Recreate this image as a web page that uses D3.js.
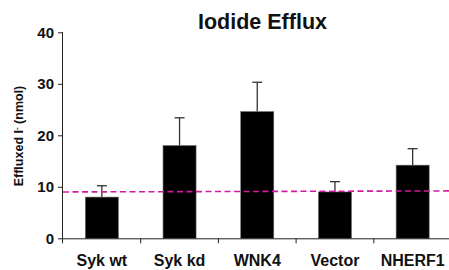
<!DOCTYPE html>
<html><head><meta charset="utf-8">
<script src="https://cdn.jsdelivr.net/npm/d3@7"></script>
<style>
html,body{margin:0;padding:0;background:#fff;}
svg{display:block;font-family:"Liberation Sans",Arial,sans-serif;}
</style></head>
<body>
<svg id="c" width="449" height="270"></svg>
<script>
const categories = ["Syk wt", "Syk kd", "WNK4", "Vector", "NHERF1"];
const means = [8.0, 18.0, 24.6, 9.0, 14.2];
const errors = [2.2, 5.4, 5.7, 2.0, 3.2];
const yTicks = [0, 10, 20, 30, 40];
const controlLevel = [9.0, 9.2];
const title = "Iodide Efflux";

const svg = d3.select("#c");
const x0 = 63, x1 = 451.5, yTop = 32.3, yBot = 238.3;

const x = d3.scaleBand().domain(categories).range([x0, x1]).paddingInner(0.575).paddingOuter(0.2875);
const y = d3.scaleLinear().domain([0, 40]).range([yBot, yTop]);
const step = x.step();

// error bars
const g = svg.append("g");
categories.forEach((c, i) => {
  const cx = x(c) + x.bandwidth() / 2;
  g.append("line").attr("x1", cx).attr("x2", cx)
    .attr("y1", y(means[i])).attr("y2", y(means[i] + errors[i]))
    .attr("stroke", "#333").attr("stroke-width", 1.3);
  g.append("line").attr("x1", cx - 5).attr("x2", cx + 5)
    .attr("y1", y(means[i] + errors[i])).attr("y2", y(means[i] + errors[i]))
    .attr("stroke", "#333").attr("stroke-width", 1.3);
});

// bars
svg.append("g").selectAll("rect").data(categories).join("rect")
  .attr("x", d => x(d)).attr("width", x.bandwidth())
  .attr("y", (d, i) => y(means[i])).attr("height", (d, i) => y(0) - y(means[i]))
  .attr("fill", "#000").attr("stroke", "#666").attr("stroke-width", 0.6);

// control dashed line (on top of bars)
const lx = d3.scaleLinear().domain([0, 1]).range([x0, 449]);
svg.append("line")
  .attr("x1", lx(0)).attr("x2", lx(1))
  .attr("y1", y(controlLevel[0])).attr("y2", y(controlLevel[1]))
  .attr("stroke", "#d21aa0").attr("stroke-width", 1.6)
  .attr("stroke-dasharray", "6,3.5");

// y axis
const ya = svg.append("g").attr("transform", `translate(${x0},0)`)
  .call(d3.axisLeft(y).tickValues(yTicks).tickSize(5).tickPadding(4).tickFormat(d3.format("d")));
ya.select(".domain").attr("stroke", "#222").attr("d", `M-0.5,${yTop}V${yBot + 5}`);
ya.selectAll(".tick line").attr("stroke", "#222");
ya.selectAll("text").attr("font-size", 15).attr("font-weight", "bold").attr("fill", "#111")
  .attr("font-family", "Liberation Sans, Arial, sans-serif");

// x axis
svg.append("line").attr("x1", x0).attr("x2", 449).attr("y1", yBot + 0.5).attr("y2", yBot + 0.5)
  .attr("stroke", "#222");
categories.forEach((c, i) => {
  const tx = x0 + step * (i + 1);
  svg.append("line").attr("x1", tx).attr("x2", tx).attr("y1", yBot).attr("y2", yBot + 5).attr("stroke", "#222");
});
svg.append("g").selectAll("text").data(categories).join("text")
  .attr("x", d => x(d) + x.bandwidth() / 2).attr("y", 266)
  .attr("text-anchor", "middle").attr("font-size", 16).attr("font-weight", "bold").attr("fill", "#111")
  .text(d => d);

// title
svg.append("text").attr("x", 262.5).attr("y", 29).attr("text-anchor", "middle")
  .attr("font-size", 21.5).attr("font-weight", "bold").attr("fill", "#111").text(title);

// y label
const yl = svg.append("text").attr("transform", "translate(23,136) rotate(-90)")
  .attr("text-anchor", "middle").attr("font-size", 12.5).attr("font-weight", "bold").attr("fill", "#111");
yl.append("tspan").text("Effluxed I");
yl.append("tspan").attr("dy", -4).attr("font-size", 8).text("-");
yl.append("tspan").attr("dy", 4).text(" (nmol)");
</script>
</body></html>
